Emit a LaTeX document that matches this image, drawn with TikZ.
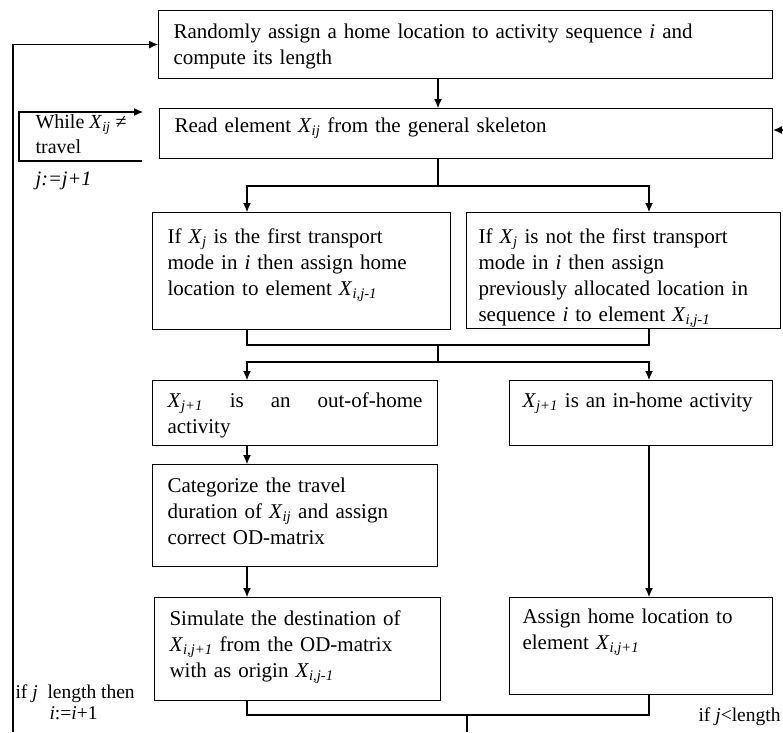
\documentclass[tikz,border=0pt]{standalone}
\usepackage{fontspec}
\setmainfont{Liberation Serif}
\usetikzlibrary{arrows.meta}
\newcommand{\Xsub}[1]{\textit{X}\textsubscript{\textit{#1}}}
\begin{document}
\begin{tikzpicture}[x=1pt, y=-1pt, >={Latex[length=9pt,width=8pt]}, line width=1.1pt,
  box/.style={draw, anchor=north west, align=left, font=\fontsize{21}{26}\selectfont,
    inner xsep=15pt, inner ysep=0pt, text height=28pt},
  lbl/.style={font=\fontsize{19.5}{21}\selectfont, align=left, inner sep=0pt}]
\useasboundingbox (0,0) rectangle (783,732);
% columns and junctions
\coordinate (spine) at (438,0);
\coordinate (lcol) at (247,0);
\coordinate (rcol) at (649,0);
\coordinate (fork1) at (438,186);
\coordinate (join1) at (438,345);
\coordinate (fork2) at (438,362);
\coordinate (join3) at (467,715);
\coordinate (botmid) at (467,732);
\coordinate (loopbot) at (13,732);
\coordinate (rightin) at (783,130);
\coordinate (wl) at (19,0);
\coordinate (wtr) at (143,112);
\coordinate (wbr) at (142,161);
% boxes
\node[box, text width=584pt, text depth=40pt] (assign) at (158,10)
  {Randomly assign a home location to activity sequence \textit{i} and\\compute its length};
\node[box, text width=583pt, text height=24pt, text depth=26pt] (read) at (159,108)
  {Read element \Xsub{ij} from the general skeleton};
\node[box, text width=268pt, text height=31pt, text depth=86pt] (first) at (152,212)
  {If \Xsub{j} is the first transport\\mode in \textit{i} then assign home\\location to element \Xsub{i,j-1}};
\node[box, inner xsep=12pt, text width=290pt, text height=31pt, text depth=85pt] (notfirst) at (466,212)
  {If \Xsub{j} is not the first transport\\mode in \textit{i} then assign\\previously allocated location in\\sequence \textit{i} to element \Xsub{i,j-1}};
\node[box, align=justify, text width=255pt, text height=27pt, text depth=38pt] (outhome) at (152,380)
  {\Xsub{j+1} is an out-of-home\linebreak activity};
\node[box, inner xsep=13pt, text width=237pt, text height=27pt, text depth=38pt] (inhome) at (509,380)
  {\Xsub{j+1} is an in-home activity};
\node[box, text width=255pt, text depth=74pt] (categorize) at (152,464)
  {Categorize the travel\\duration of \Xsub{ij} and assign\\correct OD-matrix};
\node[box, text width=256pt, text depth=75pt] (simulate) at (154,597)
  {Simulate the destination of\\\Xsub{i,j+1} from the OD-matrix\\with as origin \Xsub{i,j-1}};
\node[box, inner xsep=13pt, text width=237pt, text height=26pt, text depth=71pt] (homeloc) at (509,597)
  {Assign home location to\\element \Xsub{i,j+1}};
% side labels
\node[lbl, anchor=north west, font=\fontsize{20}{25}\selectfont] (while) at (35,114)
  {While \Xsub{ij} ≠\\travel};
\node[lbl, anchor=west, font=\fontsize{20.5}{25}\selectfont] (incj) at (35,181) {\textit{j:=j+1}};
\node[lbl, anchor=north west] (ifend) at (15,684)
  {if \textit{j}\enspace length then\\\hspace*{34pt}\textit{i}:=\textit{i}+1};
\node[lbl, anchor=west] (ifloop) at (698,717) {if \textit{j}<length};
% connectors
\draw[->] (assign.south -| spine) -- (read.north -| spine);
\draw (read.south -| spine) -- (fork1);
\draw[->] (fork1) -| (first.north -| lcol);
\draw[->] (fork1) -| (notfirst.north -| rcol);
\draw (first.south -| lcol) |- (join1);
\draw (notfirst.south -| rcol) |- (join1);
\draw (join1) -- (fork2);
\draw[->] (fork2) -| (outhome.north -| lcol);
\draw[->] (fork2) -| (inhome.north -| rcol);
\draw[->] (outhome.south -| lcol) -- (categorize.north -| lcol);
\draw[->] (categorize.south -| lcol) -- (simulate.north -| lcol);
\draw[->] (inhome.south -| rcol) -- (homeloc.north -| rcol);
\draw (simulate.south -| lcol) |- (join3);
\draw (homeloc.south -| rcol) |- (join3);
\draw (join3) -- (botmid);
% loops
\draw[->] (loopbot) |- (assign.west);
\draw[->] (rightin) -- (rightin -| read.east);
\draw[->] (wbr) -- (wbr -| wl) -- (wtr -| wl) -- (wtr);
\end{tikzpicture}
\end{document}
